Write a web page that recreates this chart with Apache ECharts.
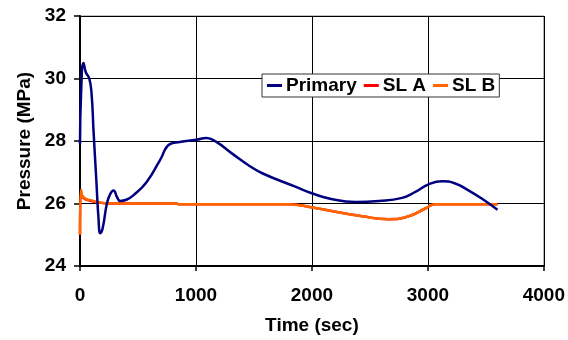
<!DOCTYPE html>
<html><head><meta charset="utf-8">
<script src="https://cdn.jsdelivr.net/npm/echarts@6/dist/echarts.min.js"></script>
<style>html,body{margin:0;padding:0;background:#fff}#c{width:568px;height:340px}</style>
</head><body><div id="c"></div>
<script>
var xTicks = [0, 1000, 2000, 3000, 4000];
var yTicks = [24, 26, 28, 30, 32];

var primaryT = [0, 10, 30, 50, 80, 100, 117, 140, 160, 175, 195, 232, 260, 289, 320, 346, 400, 460, 575, 689, 775, 861, 1004, 1090, 1176, 1318, 1462, 1576, 1862, 2005, 2148, 2377, 2577, 2777, 2892, 3006, 3121, 3236, 3350, 3464, 3600];
var primaryP = [27.9, 29.6, 30.5, 30.2, 30.0, 29.5, 28.3, 26.8, 25.5, 25.05, 25.2, 26.0, 26.3, 26.42, 26.2, 26.08, 26.12, 26.26, 26.69, 27.38, 27.9, 27.97, 28.04, 28.1, 27.97, 27.58, 27.2, 26.96, 26.53, 26.32, 26.16, 26.05, 26.08, 26.18, 26.37, 26.61, 26.71, 26.64, 26.42, 26.16, 25.8];

var slaT = [0, 8, 20, 50, 100, 150, 250, 830, 850, 1800, 2005, 2434, 2663, 2834, 2977, 3064, 3600];
var slaP = [25.0, 26.4, 26.22, 26.13, 26.08, 26.04, 26.0, 26.0, 25.98, 25.98, 25.87, 25.59, 25.5, 25.59, 25.84, 25.98, 25.98];

var slbT = [0, 8, 20, 50, 100, 150, 250, 830, 850, 1800, 2005, 2434, 2663, 2834, 2977, 3064, 3600];
var slbP = [25.0, 26.45, 26.25, 26.15, 26.1, 26.05, 26.0, 26.0, 25.98, 25.98, 25.87, 25.59, 25.5, 25.59, 25.84, 25.98, 25.98];

function pairs(t, p) { return t.map(function (v, i) { return [v, p[i]]; }); }

var F = 'Liberation Sans, Arial, sans-serif';
var FS = 19;
var chart = echarts.init(document.getElementById('c'), null, {renderer: 'canvas'});
chart.setOption({
  animation: false,
  backgroundColor: '#fff',
  grid: {left: 80, right: 22, top: 16, bottom: 74, show: true, borderColor: '#888', borderWidth: 1},
  legend: {
    data: ['Primary', 'SL A', 'SL B'],
    left: 262, top: 74,
    backgroundColor: '#fff', borderColor: '#333', borderWidth: 1,
    padding: [2, 4, 2, 5],
    itemGap: 7, itemWidth: 15, itemHeight: 3,
    icon: 'rect',
    textStyle: {fontFamily: F, fontWeight: 'bold', fontSize: FS, color: '#000', padding: [0, 0, 0, -1]}
  },
  xAxis: {
    type: 'value', min: xTicks[0], max: xTicks[xTicks.length - 1], interval: 1000,
    name: 'Time (sec)', nameLocation: 'middle', nameGap: 50,
    nameTextStyle: {fontFamily: F, fontWeight: 'bold', fontSize: FS, color: '#000'},
    axisLine: {show: true, lineStyle: {color: '#000', width: 2}},
    axisTick: {show: true, length: 5, lineStyle: {color: '#000', width: 1.5}},
    axisLabel: {fontFamily: F, fontWeight: 'bold', fontSize: FS, color: '#000', margin: 20,
      formatter: function (v) { return String(v); }},
    splitLine: {show: true, lineStyle: {color: '#000', width: 1}}
  },
  yAxis: {
    type: 'value', min: yTicks[0], max: yTicks[yTicks.length - 1], interval: 2,
    name: 'Pressure (MPa)', nameLocation: 'middle', nameGap: 46,
    nameTextStyle: {fontFamily: F, fontWeight: 'bold', fontSize: FS, color: '#000'},
    axisLine: {show: true, lineStyle: {color: '#000', width: 2}},
    axisTick: {show: true, length: 6, lineStyle: {color: '#000', width: 1.5}},
    axisLabel: {fontFamily: F, fontWeight: 'bold', fontSize: FS, color: '#000', margin: 14},
    splitLine: {show: true, lineStyle: {color: '#000', width: 1}}
  },
  series: [
    {name: 'Primary', type: 'line', data: pairs(primaryT, primaryP), showSymbol: false, smooth: 0.5,
     lineStyle: {color: '#000080', width: 2.5}, itemStyle: {color: '#000080'}, z: 3},
    {name: 'SL A', type: 'line', data: pairs(slaT, slaP), showSymbol: false, smooth: 0.5,
     lineStyle: {color: '#FF0000', width: 2.5}, itemStyle: {color: '#FF0000'}, z: 2},
    {name: 'SL B', type: 'line', data: pairs(slbT, slbP), showSymbol: false, smooth: 0.5,
     lineStyle: {color: '#FF6600', width: 2.5}, itemStyle: {color: '#FF6600'}, z: 2}
  ]
});
</script></body></html>
